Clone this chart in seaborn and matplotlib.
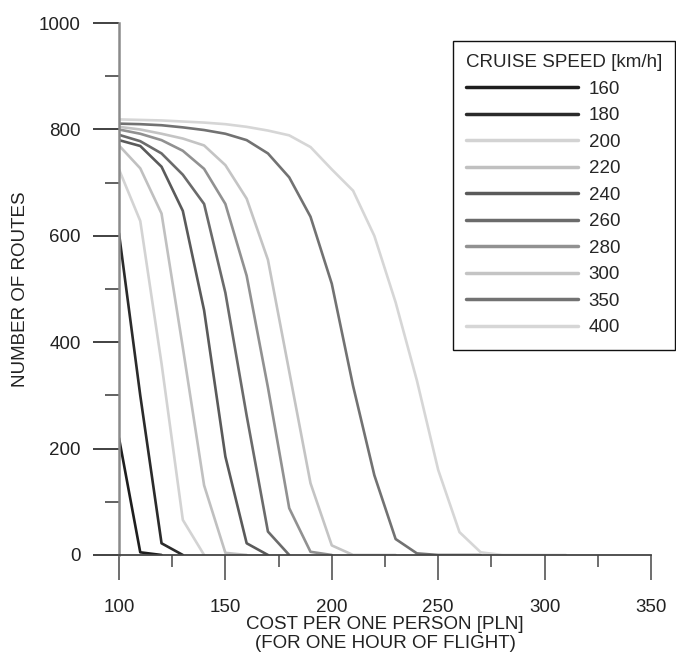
import pandas as pd
import numpy as np
import matplotlib.pyplot as plt
import seaborn as sns

# Cost per one person [PLN] (x) and number of routes (y) for each cruise speed
cost = [100, 110, 120, 130, 140, 150, 160, 170, 180, 190, 200,
        210, 220, 230, 240, 250, 260, 270, 280, 290, 300, 310]

routes_160 = [220, 5, 0]
routes_180 = [605, 300, 22, 0]
routes_200 = [725, 628, 360, 66, 0]
routes_220 = [770, 727, 642, 390, 131, 4, 0]
routes_240 = [780, 769, 730, 647, 460, 185, 22, 0]
routes_260 = [790, 778, 755, 715, 660, 493, 262, 44, 0]
routes_280 = [800, 792, 780, 760, 726, 660, 525, 315, 88, 6, 0]
routes_300 = [805, 800, 792, 783, 770, 733, 670, 555, 345, 135, 18, 0, 0, 0]
routes_350 = [811, 810, 808, 804, 799, 792, 780, 755, 710, 636, 510, 318,
              150, 30, 3, 0, 0, 0]
routes_400 = [819, 818, 817, 815, 813, 810, 805, 798, 789, 767, 725, 685,
              600, 475, 328, 160, 43, 5, 0, 0, 0, 0]

speeds = ["160", "180", "200", "220", "240", "260", "280", "300", "350", "400"]
speed_colors = ["#1e1e1e", "#2b2b2b", "#d3d3d3", "#c0c0c0", "#5a5a5a",
                "#6b6b6b", "#919191", "#c4c4c4", "#727272", "#d6d6d6"]

all_routes = [routes_160, routes_180, routes_200, routes_220, routes_240,
              routes_260, routes_280, routes_300, routes_350, routes_400]

# Long-form table for seaborn
rows = []
for spd, vals in zip(speeds, all_routes):
    for c, v in zip(cost, vals):
        rows.append({"cost": c, "routes": v, "speed": spd})
df = pd.DataFrame(rows)

sns.set_style("ticks")
plt.rcParams["font.family"] = ["Liberation Sans", "DejaVu Sans"]

fig = plt.figure(figsize=(6.76, 6.55), dpi=100)
ax = fig.add_axes([0.176, 0.1527, 0.787, 0.812])

sns.lineplot(data=df, x="cost", y="routes", hue="speed", hue_order=speeds,
             palette=dict(zip(speeds, speed_colors)), estimator=None,
             linewidth=1.9, ax=ax)

ax.set_xlim(100, 350)
ax.set_ylim(0, 1000)
ax.set_xticks([100, 150, 200, 250, 300, 350])
ax.set_xticks([125, 175, 225, 275, 325], minor=True)
ax.set_yticks([0, 200, 400, 600, 800, 1000])
ax.set_yticks([100, 300, 500, 700, 900], minor=True)

ax.tick_params(axis="both", which="both", labelsize=13.5, labelcolor="#222222")
ax.tick_params(axis="y", which="major", length=18.5, width=1.3, color="#333333", pad=9)
ax.tick_params(axis="y", which="minor", length=10, width=1.3, color="#555555")
ax.tick_params(axis="x", which="major", length=18, width=1.2, color="#555555", pad=14)
ax.tick_params(axis="x", which="minor", length=8.6, width=1.2, color="#555555")

sns.despine(ax=ax)
ax.spines["left"].set_color("#8a8a8a")
ax.spines["left"].set_linewidth(1.8)
ax.spines["bottom"].set_color("#444444")
ax.spines["bottom"].set_linewidth(1.3)

ax.set_xlabel("COST PER ONE PERSON [PLN]\n(FOR ONE HOUR OF FLIGHT)",
              fontsize=13.5, color="#222222", labelpad=0, linespacing=1.12)
ax.set_ylabel("NUMBER OF ROUTES", fontsize=13.5, color="#222222", labelpad=7)

handles, labels = ax.get_legend_handles_labels()
leg = ax.legend(handles, labels, title="CRUISE SPEED [km/h]",
                loc="upper right", bbox_to_anchor=(0.999, 0.937),
                bbox_transform=fig.transFigure, borderaxespad=0,
                fontsize=13.5, title_fontsize=13.5, handlelength=6.0,
                handletextpad=0.55, labelspacing=0.5, borderpad=0.7,
                fancybox=False, framealpha=1, edgecolor="#111111",
                alignment="left")
leg.get_frame().set_linewidth(1.0)
for line in leg.get_lines():
    line.set_linewidth(2.5)

fig.savefig("out.png", dpi=100)
